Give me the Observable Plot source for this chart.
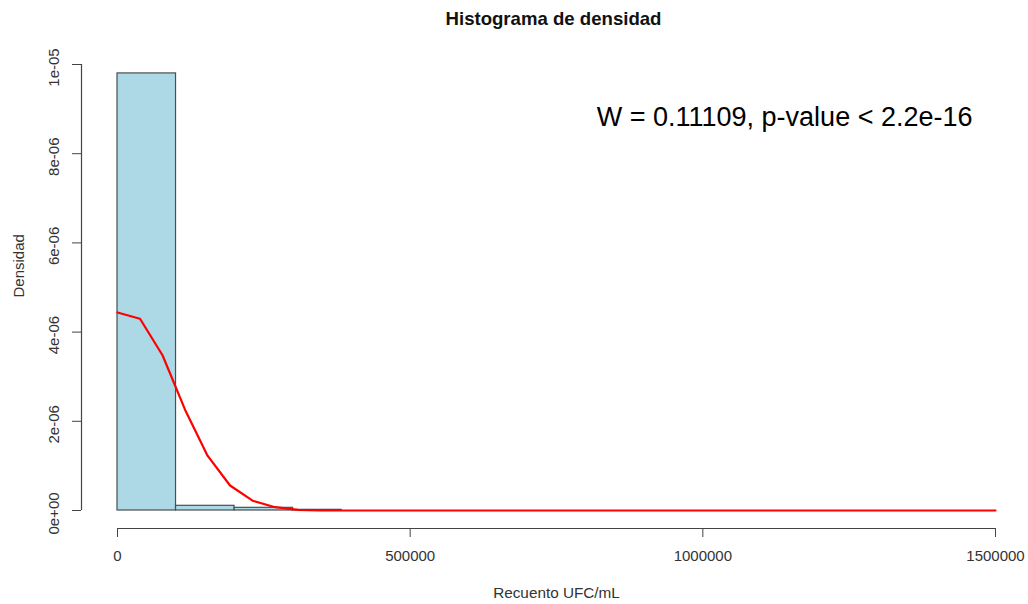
<!DOCTYPE html>
<html>
<head>
<meta charset="utf-8">
<script src="https://cdn.jsdelivr.net/npm/d3@7"></script>
<script src="https://cdn.jsdelivr.net/npm/@observablehq/plot@0.6"></script>
<style>
  html, body { margin: 0; padding: 0; background: #fff; }
  #chart svg { display: block; }
</style>
</head>
<body>
<div id="chart"></div>
<script>
// Histogram bins (Recuento UFC/mL) and densities
const binStarts = [0, 100000, 200000, 300000];
const binEnds = [100000, 200000, 300000, 383000];
const binDensity = [9.8e-6, 1.05e-7, 6.0e-8, 1.5e-8];

// Density curve (red line)
const curveX = [0, 38462, 76923, 115385, 153846, 192308, 230769, 269231, 307692, 346154, 384615, 1500000];
const curveY = [4.44e-6, 4.30e-6, 3.48e-6, 2.26e-6, 1.23e-6, 5.6e-7, 2.2e-7, 7.4e-8, 1.6e-8, 3e-9, 0, 0];

// Axis ticks
const xTicks = [0, 500000, 1000000, 1500000];
const xTickLabels = ["0", "500000", "1000000", "1500000"];
const yTicks = [0, 2e-6, 4e-6, 6e-6, 8e-6, 1e-5];
const yTickLabels = ["0e+00", "2e-06", "4e-06", "6e-06", "8e-06", "1e-05"];

// Texts
const titleText = "Histograma de densidad";
const xLabel = "Recuento UFC/mL";
const yLabel = "Densidad";
const testText = "W = 0.11109, p-value < 2.2e-16";

const bins = binStarts.map((s, i) => ({x1: s, x2: binEnds[i], y: binDensity[i]}));
const curve = curveX.map((x, i) => ({x, y: curveY[i]}));

const axisColor = "#444";
const textColor = "#333";

const chart = Plot.plot({
  width: 1028,
  height: 604,
  marginLeft: 117,
  marginRight: 33,
  marginTop: 64,
  marginBottom: 94,
  style: {fontFamily: "'Liberation Sans', Arial, sans-serif", background: "#fff", overflow: "visible"},
  x: {domain: [0, 1500000], axis: null},
  y: {domain: [0, 1e-5], axis: null},
  marks: [
    Plot.rectY(bins, {x1: "x1", x2: "x2", y: "y", fill: "#ADD8E6", stroke: "#4a4f52", strokeWidth: 1.2}),
    Plot.line(curve, {x: "x", y: "y", stroke: "#ff0000", strokeWidth: 2.2}),
    // y axis (R style, offset)
    Plot.ruleX([0], {y1: 0, y2: 1e-5, dx: -36, stroke: axisColor, strokeWidth: 1.2}),
    Plot.axisY({ticks: yTicks, tickFormat: () => "", tickSize: 9, dx: -36, stroke: axisColor, label: null}),
    Plot.axisY({ticks: yTicks, tickFormat: (d, i) => yTickLabels[i], tickSize: 0, tickRotate: -90, tickPadding: 23, dx: -36, dy: 3,
      fontSize: 15, color: textColor, stroke: "none", label: null}),
    // x axis
    Plot.ruleY([0], {x1: 0, x2: 1500000, dy: 18, stroke: axisColor, strokeWidth: 1.2}),
    Plot.axisX({ticks: xTicks, tickFormat: (d, i) => xTickLabels[i], tickSize: 9, tickPadding: 13, dy: 18,
      fontSize: 15, color: textColor, stroke: axisColor, label: null}),
    // labels
    Plot.text([xLabel], {frameAnchor: "bottom", dy: 87, fontSize: 15.3, fill: textColor, text: d => d}),
    Plot.text([yLabel], {frameAnchor: "left", dx: -98, dy: 10, rotate: -90, fontSize: 15, fill: textColor, text: d => d}),
    Plot.text([titleText], {frameAnchor: "top", dy: -53, dx: -3, fontSize: 18.6, fontWeight: "bold", fill: "#111", text: d => d}),
    Plot.text([testText], {frameAnchor: "top-right", dx: -23, dy: 53, lineAnchor: "middle", textAnchor: "end", fontSize: 27, fill: "#000", text: d => d})
  ]
});
document.getElementById("chart").appendChild(chart);
</script>
</body>
</html>
